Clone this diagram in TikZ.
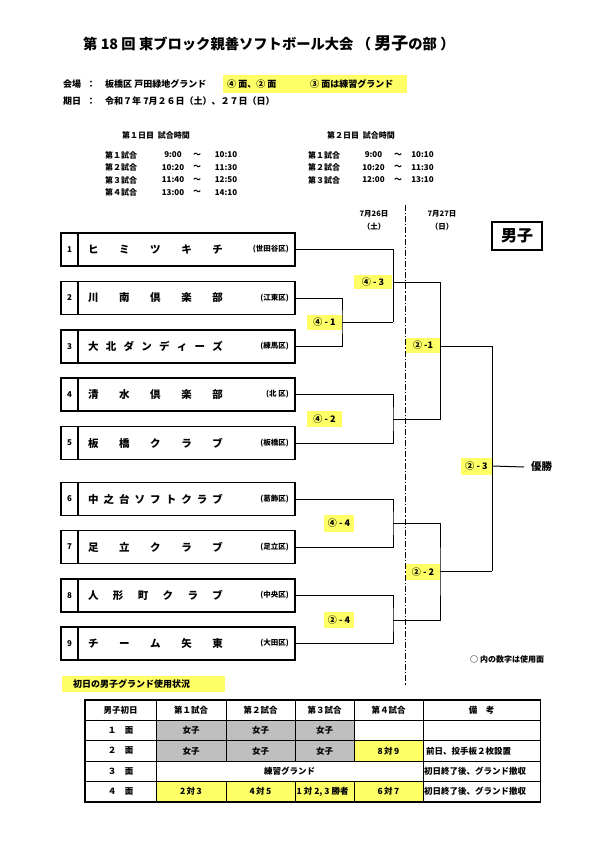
\documentclass[tikz,border=0pt]{standalone}
\usepackage{fontspec}
\setmainfont{Noto Sans CJK JP}
\usetikzlibrary{calc}
\definecolor{hl}{RGB}{255,255,102}
\definecolor{gr}{RGB}{191,191,191}
\newcommand\fsz[1]{\fontsize{#1}{#1}\selectfont}
\begin{document}
\begin{tikzpicture}[x=1pt,y=-1pt,
  every node/.style={inner sep=0pt, font=\bfseries\fsz{8}},
  numcell/.style={draw, line width=1.2pt, minimum width=17pt, minimum height=33pt, font=\bfseries\fsz{8}},
  namecell/.style={draw, line width=1.2pt, minimum width=217pt, minimum height=33pt},
  teamname/.style={font=\bfseries\fsz{10.5}},
  ward/.style={anchor=east, font=\bfseries\fsz{7.5}},
  link/.style={line width=1pt},
  game/.style={fill=hl, font=\bfseries\fsz{9}},
  sched/.style={font=\bfseries\fsz{8}},
  info/.style={font=\bfseries\fsz{9}},
  cell/.style={draw, line width=0.7pt, minimum height=20.3pt, font=\bfseries\fsz{8.5}},
  gcell/.style={cell, fill=gr},
  ycell/.style={cell, fill=hl},
  note/.style={anchor=west, font=\bfseries\fsz{8.5}}]
\useasboundingbox (0,0) rectangle (595,841);
% title
\node[anchor=west] (title) at (83,43) {\fsz{14.3}第 18 回 東ブロック親善ソフトボール大会 （ {\fsz{17}男子}の部 ）};
% venue and date
\node[fill=hl, minimum width=184pt, minimum height=18pt] (vhl) at (315,84) {};
\node[info, anchor=west] (vlab) at (63,84) {会場};
\node[info] (vcol) at (91,84) {：};
\node[info, anchor=west] (vtxt) at (105,84) {板橋区 戸田緑地グランド};
\node[info, anchor=west] (vh1) at (227,84) {④ 面、② 面};
\node[info, anchor=west] (vh2) at (310,84) {③ 面は練習グランド};
\node[info, anchor=west] (dlab) at (63,101) {期日};
\node[info] (dcol) at (91,101) {：};
\node[info, anchor=west] (dtxt) at (105,101) {令和７年 7月２６日（土）、２７日（日）};
% schedules
\node[sched, anchor=west] (s1h) at (122,135) {第１日目\ \ 試合時間};
\node[sched, anchor=west] (s2h) at (327,135) {第２日目\ \ 試合時間};
\foreach \k/\y/\a/\b in {1/155/9:00/10:10, 2/167.5/10:20/11:30, 3/180/11:40/12:50, 4/192.5/13:00/14:10}{
  \node[sched, anchor=west] (s1l\k) at (105,\y) {第\ifcase\k\or １\or ２\or ３\or ４\fi 試合};
  \node[sched] (s1a\k) at (173,\y) {\a};
  \node[sched] (s1t\k) at (197,\y) {～};
  \node[sched] (s1b\k) at (226,\y) {\b};
}
\foreach \k/\y/\a/\b in {1/155/9:00/10:10, 2/167.5/10:20/11:30, 3/180/12:00/13:10}{
  \node[sched, anchor=west] (s2l\k) at (308,\y) {第\ifcase\k\or １\or ２\or ３\fi 試合};
  \node[sched] (s2a\k) at (373.5,\y) {\a};
  \node[sched] (s2t\k) at (398,\y) {～};
  \node[sched] (s2b\k) at (422.5,\y) {\b};
}
% dates and boys label
\node[font=\bfseries\fsz{7.5}] (day1) at (374,214) {7月26日};
\node[font=\bfseries\fsz{7.5}] (day1b) at (374,227) {（土）};
\node[font=\bfseries\fsz{7.5}] (day2) at (442,214) {7月27日};
\node[font=\bfseries\fsz{7.5}] (day2b) at (442,227) {（日）};
\node[draw, line width=1.2pt, minimum width=50pt, minimum height=28pt, font=\bfseries\fsz{16}] (boys) at (517,236) {男子};
% dash-dot day divider
\coordinate (dv1) at (405,205);
\coordinate (dv2) at (405,686);
\draw[line width=1pt, dash pattern=on 6pt off 2pt on 1.2pt off 2pt] (dv1) -- (dv2);
% teams
\foreach \i/\y/\nm/\wrd in {
  1/249.5/ヒ\hfill ミ\hfill ツ\hfill キ\hfill チ/(世田谷区),
  2/298/川\hfill 南\hfill 倶\hfill 楽\hfill 部/(江東区),
  3/346.5/大\hfill 北\hfill ダ\hfill ン\hfill デ\hfill ィ\hfill ー\hfill ズ/(練馬区),
  4/394.5/清\hfill 水\hfill 倶\hfill 楽\hfill 部/(北 区),
  5/443/板\hfill 橋\hfill ク\hfill ラ\hfill ブ/(板橋区),
  6/499/中\hfill 之\hfill 台\hfill ソ\hfill フ\hfill ト\hfill ク\hfill ラ\hfill ブ/(葛飾区),
  7/547/足\hfill 立\hfill ク\hfill ラ\hfill ブ/(足立区),
  8/595.5/人\hfill 形\hfill 町\hfill ク\hfill ラ\hfill ブ/(中央区),
  9/643.5/チ\hfill ー\hfill ム\hfill 矢\hfill 東/(大田区)}{
  \node[numcell] (n\i) at (69.5,\y) {\i};
  \node[namecell] (t\i) at (186.5,\y) {};
  \node[teamname] (nm\i) at (155.5,\y) {\makebox[135pt][s]{\nm}};
  \node[ward] (w\i) at (289,\y) {\wrd};
}
% game labels
\node[game, minimum width=38pt, minimum height=14pt] (g43) at (373,282) {④ - 3};
\node[game, minimum width=35pt, minimum height=15pt] (g41) at (324.5,322.5) {④ - 1};
\node[game, minimum width=34pt, minimum height=15pt] (g21) at (423,345.5) {② -1};
\node[game, minimum width=35pt, minimum height=16pt] (g42) at (324.5,419) {④ - 2};
\node[game, minimum width=31pt, minimum height=17pt] (g23) at (476.5,466.5) {② - 3};
\node[game, minimum width=34pt, minimum height=16pt] (g22) at (423,572) {② - 2};
\node[game, minimum width=30pt, minimum height=17pt] (g44) at (339,523.5) {④ - 4};
\node[game, minimum width=30pt, minimum height=16pt] (g24) at (339,620) {② - 4};
% bracket junctions
\coordinate (a1) at (342,322);
\coordinate (b1) at (393,322);
\coordinate (c1) at (393,282);
\coordinate (d1) at (440,282);
\coordinate (e2) at (393,419);
\coordinate (f1) at (440,346);
\coordinate (g1) at (492,346);
\coordinate (e4) at (393,523);
\coordinate (e5) at (393,620);
\coordinate (h2) at (440,571);
\coordinate (g2) at (492,571);
\coordinate (fin) at (492,466);
\node[anchor=west, font=\bfseries\fsz{10.5}] (win) at (531,467) {優勝};
\draw[link] (t2.east) -| (a1) |- (t3.east);
\draw[link] (a1) -- (b1);
\draw[link] (t1.east) -| (b1);
\draw[link] (c1) -- (d1) |- (e2);
\draw[link] (t4.east) -| (e2) |- (t5.east);
\draw[link] (f1) -- (g1);
\draw[link] (t6.east) -| (e4) |- (t7.east);
\draw[link] (t8.east) -| (e5) |- (t9.east);
\draw[link] (e4) -| (h2) |- (e5);
\draw[link] (h2) -- (g2);
\draw[link] (g1) -- (g2);
\draw[link] (fin) -- ([xshift=-7pt]win.west);
\node[anchor=west, font=\bfseries\fsz{8}] (legend) at (470,659) {○ 内の数字は使用面};
% table title
\node[fill=hl, minimum width=163pt, minimum height=16pt] (tbhl) at (143.5,684) {};
\node[anchor=west, font=\bfseries\fsz{9}] (tbttl) at (73,684) {初日の男子グランド使用状況};
% table
\node[cell, minimum width=71pt] (c00) at (120.5,710.25) {男子初日};
\node[cell, minimum width=70pt] (c01) at (191,710.25) {第１試合};
\node[cell, minimum width=69pt] (c02) at (260.5,710.25) {第２試合};
\node[cell, minimum width=59pt] (c03) at (324.5,710.25) {第３試合};
\node[cell, minimum width=69pt] (c04) at (388.5,710.25) {第４試合};
\node[cell, minimum width=117pt] (c05) at (481.5,710.25) {備\quad 考};
\node[cell, minimum width=71pt] (c10) at (120.5,730.55) {１\quad 面};
\node[gcell, minimum width=70pt] (c11) at (191,730.55) {女子};
\node[gcell, minimum width=69pt] (c12) at (260.5,730.55) {女子};
\node[gcell, minimum width=59pt] (c13) at (324.5,730.55) {女子};
\node[cell, minimum width=69pt] (c14) at (388.5,730.55) {};
\node[cell, minimum width=117pt] (c15) at (481.5,730.55) {};
\node[cell, minimum width=71pt] (c20) at (120.5,750.85) {２\quad 面};
\node[gcell, minimum width=70pt] (c21) at (191,750.85) {女子};
\node[gcell, minimum width=69pt] (c22) at (260.5,750.85) {女子};
\node[gcell, minimum width=59pt] (c23) at (324.5,750.85) {女子};
\node[ycell, minimum width=69pt] (c24) at (388.5,750.85) {8\,対\,9};
\node[cell, minimum width=117pt] (c25) at (481.5,750.85) {};
\node[note] (r2) at (426,750.85) {前日、投手板２枚設置};
\node[cell, minimum width=71pt] (c30) at (120.5,771.15) {３\quad 面};
\node[cell, minimum width=267pt] (c31) at (289.5,771.15) {練習グランド};
\node[cell, minimum width=117pt] (c35) at (481.5,771.15) {};
\node[note] (r3) at (424,771.15) {初日終了後、グランド撤収};
\node[cell, minimum width=71pt] (c40) at (120.5,791.45) {４\quad 面};
\node[ycell, minimum width=70pt] (c41) at (191,791.45) {2\,対\,3};
\node[ycell, minimum width=69pt] (c42) at (260.5,791.45) {4\,対\,5};
\node[ycell, minimum width=59pt] (c43) at (324.5,791.45) {};
\node[anchor=west, font=\bfseries\fsz{8.5}] (c43t) at (296.5,791.45) {1 対 2, 3 勝者};
\node[ycell, minimum width=69pt] (c44) at (388.5,791.45) {6\,対\,7};
\node[cell, minimum width=117pt] (c45) at (481.5,791.45) {};
\node[note] (r4) at (424,791.45) {初日終了後、グランド撤収};
\draw[line width=1.3pt] (c00.north west) rectangle (c45.south east);
\end{tikzpicture}
\end{document}
